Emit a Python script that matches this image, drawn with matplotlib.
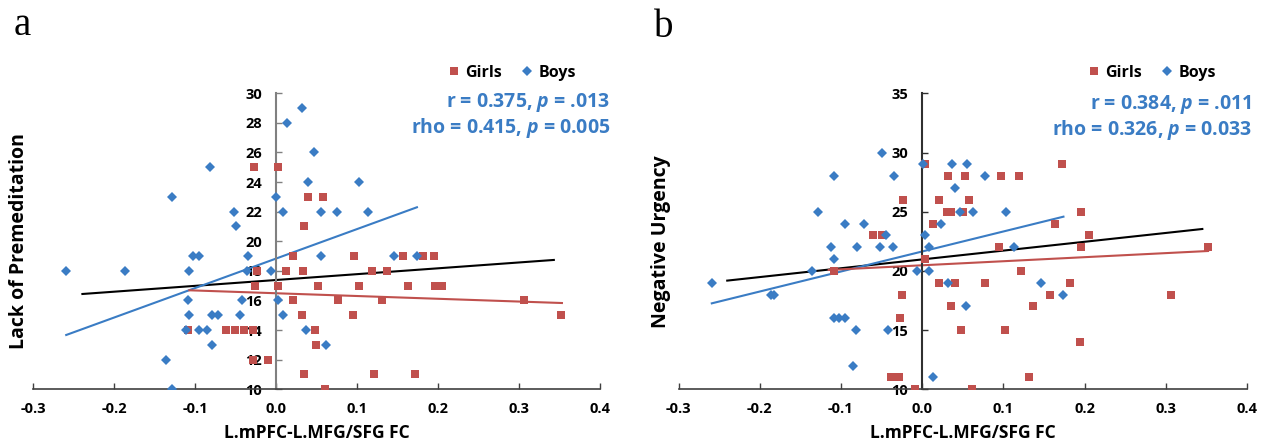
import numpy as np
import matplotlib
matplotlib.use("Agg")
import matplotlib.pyplot as plt
from matplotlib.lines import Line2D

plt.rcParams['font.family'] = ['Open Sans', 'DejaVu Sans']
plt.rcParams['font.weight'] = 'bold'
plt.rcParams['mathtext.fontset'] = 'custom'
plt.rcParams['mathtext.it'] = 'Open Sans:bold:italic'
plt.rcParams['mathtext.rm'] = 'Open Sans:bold'

RED = '#C0504D'
BLUE = '#3A7CC4'

x_label = 'L.mPFC-L.MFG/SFG FC'

# ---- panel a: Lack of Premeditation ----
a_boys_x = [-0.259, -0.186, -0.128, -0.081, -0.052, -0.049, -0.035, -0.102, -0.095,
            -0.108, -0.109, -0.107, -0.079, -0.071, -0.044, -0.042, -0.111, -0.095,
            -0.085, -0.079, -0.136, -0.128, -0.006, -0.036, 0.000, 0.009, 0.014,
            0.032, 0.047, 0.040, 0.055, 0.075, 0.103, 0.114, 0.055, 0.146, 0.174,
            0.003, 0.009, 0.037, 0.062]
a_boys_y = [18, 18, 23, 25, 22, 21, 19, 19, 19,
            18, 16, 15, 15, 15, 15, 16, 14, 14,
            14, 13, 12, 10, 18, 18, 23, 22, 28,
            29, 26, 24, 22, 22, 24, 22, 19, 19, 19,
            16, 15, 14, 13]
a_girls_x = [-0.027, 0.003, -0.109, -0.062, -0.050, -0.039, -0.028, -0.026, -0.024,
             -0.028, -0.0095, 0.003, 0.040, 0.058, 0.035, 0.021, 0.012, 0.033,
             0.052, 0.021, 0.032, 0.048, 0.049, 0.035, 0.061, 0.096, 0.102, 0.077,
             0.095, 0.118, 0.137, 0.131, 0.121, 0.157, 0.163, 0.182, 0.195, 0.196,
             0.205, 0.172, 0.306, 0.352]
a_girls_y = [25, 25, 14, 14, 14, 14, 14, 17, 18,
             12, 12, 17, 23, 23, 21, 19, 18, 18,
             17, 16, 15, 14, 13, 11, 10, 19, 17, 16,
             15, 18, 18, 16, 11, 19, 17, 19, 19, 17,
             17, 11, 16, 15]
a_fit_all = ([-0.239, 0.343], [16.44, 18.74])
a_fit_boys = ([-0.259, 0.174], [13.67, 22.30])
a_fit_girls = ([-0.107, 0.353], [16.69, 15.83])
a_stats = [r'r = 0.375, $p$ = .013', r'rho = 0.415, $p$ = 0.005']

# ---- panel b: Negative Urgency ----
b_boys_x = [-0.259, -0.186, -0.183, -0.136, -0.128, -0.108, -0.112, -0.109, -0.109,
            -0.102, -0.095, -0.095, -0.080, -0.072, -0.082, -0.085, -0.049, -0.052,
            -0.044, -0.035, -0.036, -0.042, -0.006, 0.001, 0.004, 0.009, 0.009,
            0.0135, 0.023, 0.032, 0.037, 0.041, 0.047, 0.055, 0.0545, 0.063, 0.077,
            0.103, 0.113, 0.146, 0.173]
b_boys_y = [19, 18, 18, 20, 25, 28, 22, 21, 16,
            16, 16, 24, 22, 24, 15, 12, 30, 22,
            23, 28, 22, 15, 20, 29, 23, 22, 20,
            11, 24, 19, 29, 27, 25, 29, 17, 25, 28,
            25, 22, 19, 18]
b_girls_x = [-0.061, -0.050, -0.109, -0.023, -0.025, -0.027, -0.038, -0.028, -0.009,
             0.004, 0.004, 0.013, 0.021, 0.021, 0.032, 0.031, 0.035, 0.035, 0.041,
             0.048, 0.050, 0.053, 0.058, 0.061, 0.077, 0.097, 0.095, 0.102, 0.119,
             0.122, 0.132, 0.137, 0.157, 0.164, 0.172, 0.182, 0.194, 0.195, 0.196,
             0.205, 0.306, 0.352]
b_girls_y = [23, 23, 20, 26, 18, 16, 11, 11, 10,
             29, 21, 24, 19, 26, 28, 25, 25, 17, 19,
             15, 25, 28, 26, 10, 19, 28, 22, 15, 28,
             20, 11, 17, 18, 24, 29, 19, 14, 25, 22,
             23, 18, 22]
b_fit_all = ([-0.240, 0.345], [19.18, 23.54])
b_fit_boys = ([-0.259, 0.174], [17.26, 24.58])
b_fit_girls = ([-0.115, 0.352], [20.08, 21.68])
b_stats = [r'r = 0.384, $p$ = .011', r'rho = 0.326, $p$ = 0.033']

W, H = 1262, 444
fig = plt.figure(figsize=(W / 100, H / 100), dpi=100)


def panel(rect, letter, letter_xy, bx, by, gx, gy, fits, ylim, yticks, ylabel,
          yspine_color, stats, stats_xy, leg_xy):
    ax = fig.add_axes(rect)
    ax.set_xlim(-0.3, 0.4)
    ax.set_ylim(*ylim)
    ax.plot(gx, gy, 's', color=RED, ms=5.3, mew=0, zorder=3)
    ax.plot(bx, by, 'D', color=BLUE, ms=4.6, mew=0, zorder=4)
    ax.plot(*fits[0], color='black', lw=1.5, zorder=2)
    ax.plot(*fits[1], color=BLUE, lw=1.5, zorder=2)
    ax.plot(*fits[2], color=RED, lw=1.5, zorder=2)

    for s in ['top', 'right']:
        ax.spines[s].set_visible(False)
    ax.spines['left'].set_position(('data', 0))
    ax.spines['left'].set_color(yspine_color)
    ax.spines['left'].set_linewidth(1.5)
    ax.spines['bottom'].set_color('#404040')
    ax.spines['bottom'].set_linewidth(1.2)

    ax.set_xticks(np.arange(-0.3, 0.41, 0.1))
    ax.set_xticklabels(['%.1f' % v for v in np.arange(-0.3, 0.41, 0.1)])
    ax.set_yticks(yticks)
    ax.tick_params(axis='x', direction='in', length=4, width=1, pad=9,
                   labelsize=10.5, colors='#404040', labelcolor='black')
    ax.tick_params(axis='y', direction='in', length=4, width=1, pad=10,
                   labelsize=10.5, colors=yspine_color, labelcolor='black')
    for lab in ax.get_xticklabels() + ax.get_yticklabels():
        lab.set_fontweight('bold')

    ax.set_xlabel(x_label, fontsize=12.5, fontweight='bold', labelpad=6)
    ax.set_ylabel(ylabel, fontsize=14, fontweight='bold', va='center')
    ax.yaxis.set_label_coords((letter_xy[0] - 3 - rect[0] * W) / (rect[2] * W), 0.5)

    fig.text(letter_xy[0] / W, 1 - letter_xy[1] / H, letter, family='Liberation Serif',
             fontweight='normal', fontsize=28, ha='center', va='baseline')

    fig.text(stats_xy[0] / W, 1 - stats_xy[1] / H, stats[0], color=BLUE, fontsize=14,
             fontweight='bold', ha='right', va='center')
    fig.text(stats_xy[0] / W, 1 - (stats_xy[1] + 25) / H, stats[1], color=BLUE, fontsize=14,
             fontweight='bold', ha='right', va='center')

    handles = [Line2D([], [], ls='', marker='s', color=RED, ms=5.3, mew=0),
               Line2D([], [], ls='', marker='D', color=BLUE, ms=4.6, mew=0)]
    fig.legend(handles, ['Girls', 'Boys'], loc='center right',
               bbox_to_anchor=(leg_xy[0] / W, 1 - leg_xy[1] / H), ncol=2, frameon=False,
               handlelength=0.8, handletextpad=0.3, columnspacing=1.2, borderpad=0,
               prop={'weight': 'bold', 'size': 11.5})
    return ax


panel([33 / W, 54.7 / H, 567 / W, 296 / H], 'a', (22, 35),
      a_boys_x, a_boys_y, a_girls_x, a_girls_y,
      [a_fit_all, a_fit_boys, a_fit_girls], (10, 30), np.arange(10, 31, 2),
      'Lack of Premeditation', '#808080', a_stats, (610, 103), (584, 73))

panel([678.5 / W, 54.7 / H, 568.5 / W, 296 / H], 'b', (664, 37),
      b_boys_x, b_boys_y, b_girls_x, b_girls_y,
      [b_fit_all, b_fit_boys, b_fit_girls], (10, 35), np.arange(10, 36, 5),
      'Negative Urgency', '#303030', b_stats, (1252, 105), (1224, 73))

fig.savefig('out.png', dpi=100)
